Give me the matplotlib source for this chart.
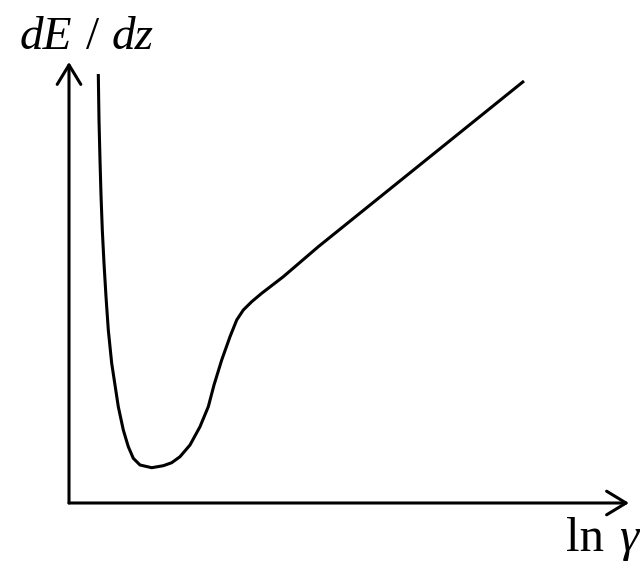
import matplotlib
matplotlib.use("Agg")
import matplotlib.pyplot as plt
from matplotlib.patches import FancyArrowPatch, ArrowStyle

# Schematic curve values (ln gamma, dE/dz) in arbitrary units
ln_gamma = [29.3, 30, 31, 32, 33.3, 35, 37, 39.3, 42.7, 46, 49.3, 54.3, 59.3,
            64.3, 71, 82.7, 94.3, 102.7, 111, 121, 131, 139.3, 145, 152.7,
            161, 167.7, 174.3, 182.7, 192.7, 214.3, 249.3, 455]
dEdz = [429, 383, 343, 308, 273, 239.7, 206.3, 173, 139.7, 118, 96.3, 73,
        56.3, 44.7, 38, 35.3, 37.3, 40.3, 46.3, 58, 76.3, 96.3, 118, 143,
        166.3, 183, 193, 201.3, 209.7, 226.3, 256.3, 422]

y_label_parts = ["dE", "/", "dz"]
x_label_parts = ["ln", "γ"]

fig = plt.figure(figsize=(6.4, 5.73), dpi=100)
ax = fig.add_axes([0, 0, 1, 1])
ax.set_xlim(-69, 571)
ax.set_ylim(-70, 503)
ax.axis("off")

lw = 2.2
ax.plot(ln_gamma, dEdz, color="black", lw=lw, solid_capstyle="butt",
        solid_joinstyle="round")

style = ArrowStyle("->", head_length=1.4, head_width=0.85)
ya = FancyArrowPatch((0, 0), (0, 441), arrowstyle=style, mutation_scale=10,
                     lw=lw, color="black", shrinkA=0, shrinkB=0)
xa = FancyArrowPatch((0, 0), (560, 0), arrowstyle=style, mutation_scale=10,
                     lw=lw, color="black", shrinkA=0, shrinkB=0)
ax.add_patch(ya)
ax.add_patch(xa)

def fx(px):
    return px / 640

def fy(py):
    return 1 - py / 573

fs_y = 34
ax.text(fx(20), fy(49), y_label_parts[0], transform=ax.transAxes,
        family="Liberation Serif", style="italic", fontsize=fs_y,
        ha="left", va="baseline")
ax.text(fx(86), fy(49), y_label_parts[1], transform=ax.transAxes,
        family="Liberation Serif", fontsize=fs_y, ha="left", va="baseline")
ax.text(fx(112), fy(49), y_label_parts[2], transform=ax.transAxes,
        family="Liberation Serif", style="italic", fontsize=fs_y,
        ha="left", va="baseline")

fs_x = 35
ax.text(fx(566), fy(551), x_label_parts[0], transform=ax.transAxes,
        family="Liberation Serif", fontsize=fs_x, ha="left", va="baseline")
ax.text(fx(619), fy(551), x_label_parts[1], transform=ax.transAxes,
        family="Liberation Serif", style="italic", fontsize=fs_x,
        ha="left", va="baseline")

fig.savefig("out.png", dpi=100)
